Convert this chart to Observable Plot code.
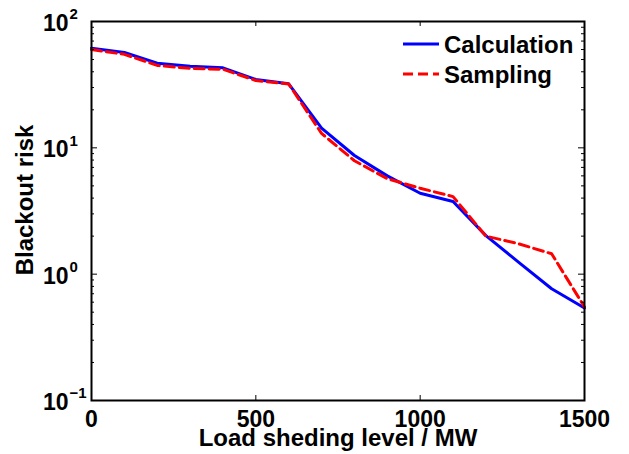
<!DOCTYPE html>
<html>
<head>
<meta charset="utf-8">
<script src="https://cdn.jsdelivr.net/npm/d3@7"></script>
<script src="https://cdn.jsdelivr.net/npm/@observablehq/plot@0.6"></script>
<style>
  html, body { margin: 0; padding: 0; background: #fff; }
  #chart { width: 629px; height: 454px; }
</style>
</head>
<body>
<div id="chart"></div>
<script>
const loadLevels = [0, 100, 200, 300, 400, 500, 600, 700, 800, 900, 1000, 1100, 1200, 1300, 1400, 1500];
const calculation = [61.5, 56.8, 46.8, 44.3, 43.0, 34.8, 32.1, 14.3, 8.7, 6.0, 4.37, 3.76, 2.02, 1.24, 0.766, 0.54];
const sampling = [60, 55, 44.9, 42.5, 41.9, 34.1, 32, 13, 7.9, 5.7, 4.79, 4.11, 2.0, 1.74, 1.45, 0.55];
const seriesNames = ["Calculation", "Sampling"];
const xTicks = [0, 500, 1000, 1500];
const yMajor = [0.1, 1, 10, 100];
const yExponent = ["\u22121", "0", "1", "2"];
const yMinor = [0.2,0.3,0.4,0.5,0.6,0.7,0.8,0.9,2,3,4,5,6,7,8,9,20,30,40,50,60,70,80,90];
const xLabel = "Load sheding level / MW";
const yLabel = "Blackout risk";

const calcData = loadLevels.map((x, i) => ({x, y: calculation[i]}));
const sampData = loadLevels.map((x, i) => ({x, y: sampling[i]}));

const W = 629, H = 454, mL = 91, mR = 45, mT = 21, mB = 54;
const pw = W - mL - mR, ph = H - mT - mB;
const font = "'Liberation Sans', Arial, Helvetica, sans-serif";

const chart = Plot.plot({
  width: W, height: H,
  marginLeft: mL, marginRight: mR, marginTop: mT, marginBottom: mB,
  style: {fontFamily: font, fontWeight: "bold", color: "#000", background: "#fff", overflow: "visible"},
  x: {domain: [0, 1500]},
  y: {type: "log", domain: [0.1, 100]},
  marks: [
    Plot.line(calcData, {x: "x", y: "y", stroke: "#0000ff", strokeWidth: 3}),
    Plot.line(sampData, {x: "x", y: "y", stroke: "#ff0000", strokeWidth: 3, strokeDasharray: "10,5"}),
    Plot.frame({stroke: "#000", strokeWidth: 2}),
    // inward ticks
    Plot.tickY(yMajor, {y: d => d, insetRight: pw - 6, stroke: "#000", strokeWidth: 1}),
    Plot.tickY(yMajor, {y: d => d, insetLeft: pw - 6, stroke: "#000", strokeWidth: 1}),
    Plot.tickY(yMinor, {y: d => d, insetRight: pw - 3, stroke: "#000", strokeWidth: 1}),
    Plot.tickY(yMinor, {y: d => d, insetLeft: pw - 3, stroke: "#000", strokeWidth: 1}),
    Plot.tickX(xTicks, {x: d => d, insetTop: ph - 5, stroke: "#000", strokeWidth: 1}),
    Plot.tickX(xTicks, {x: d => d, insetBottom: ph - 5, stroke: "#000", strokeWidth: 1}),
    Plot.axisX({ticks: xTicks, tickSize: 0, tickPadding: 10, fontSize: 23, fontWeight: "bold",
      tickFormat: d => String(d), label: null}),
    Plot.axisY({ticks: yMajor, tickSize: 0, tickPadding: 23, fontSize: 23, fontWeight: "bold",
      tickFormat: () => "10", dy: 2, label: null}),
    Plot.axisY({ticks: yMajor, tickSize: 0, tickPadding: 22, fontSize: 15, fontWeight: "bold",
      textAnchor: "start", tickFormat: d => yExponent[yMajor.indexOf(d)], dy: -7, label: null}),
    Plot.text([xLabel], {text: d => d, frameAnchor: "bottom", lineAnchor: "bottom", dy: 45,
      fontSize: 24, fontWeight: "bold", fill: "#000"}),
    Plot.text([yLabel], {text: d => d, frameAnchor: "left", textAnchor: "middle", rotate: -90, dx: -66, dy: -11,
      fontSize: 24, fontWeight: "bold", fill: "#000"})
  ]
});
document.getElementById("chart").appendChild(chart);

// legend
const svg = d3.select(chart);
const lg = svg.append("g").attr("class", "legend").attr("text-anchor", "start");
const legendItems = [
  {name: seriesNames[0], color: "#0000ff", dash: null, y: 44},
  {name: seriesNames[1], color: "#ff0000", dash: "10,5", y: 74}
];
legendItems.forEach(it => {
  lg.append("line").attr("x1", 403).attr("x2", 439).attr("y1", it.y).attr("y2", it.y)
    .attr("stroke", it.color).attr("stroke-width", 3).attr("stroke-dasharray", it.dash);
  lg.append("text").attr("x", 444).attr("y", it.y + 8.5).text(it.name)
    .attr("font-size", 24).attr("font-weight", "bold").attr("font-family", font).attr("fill", "#000");
});
</script>
</body>
</html>
